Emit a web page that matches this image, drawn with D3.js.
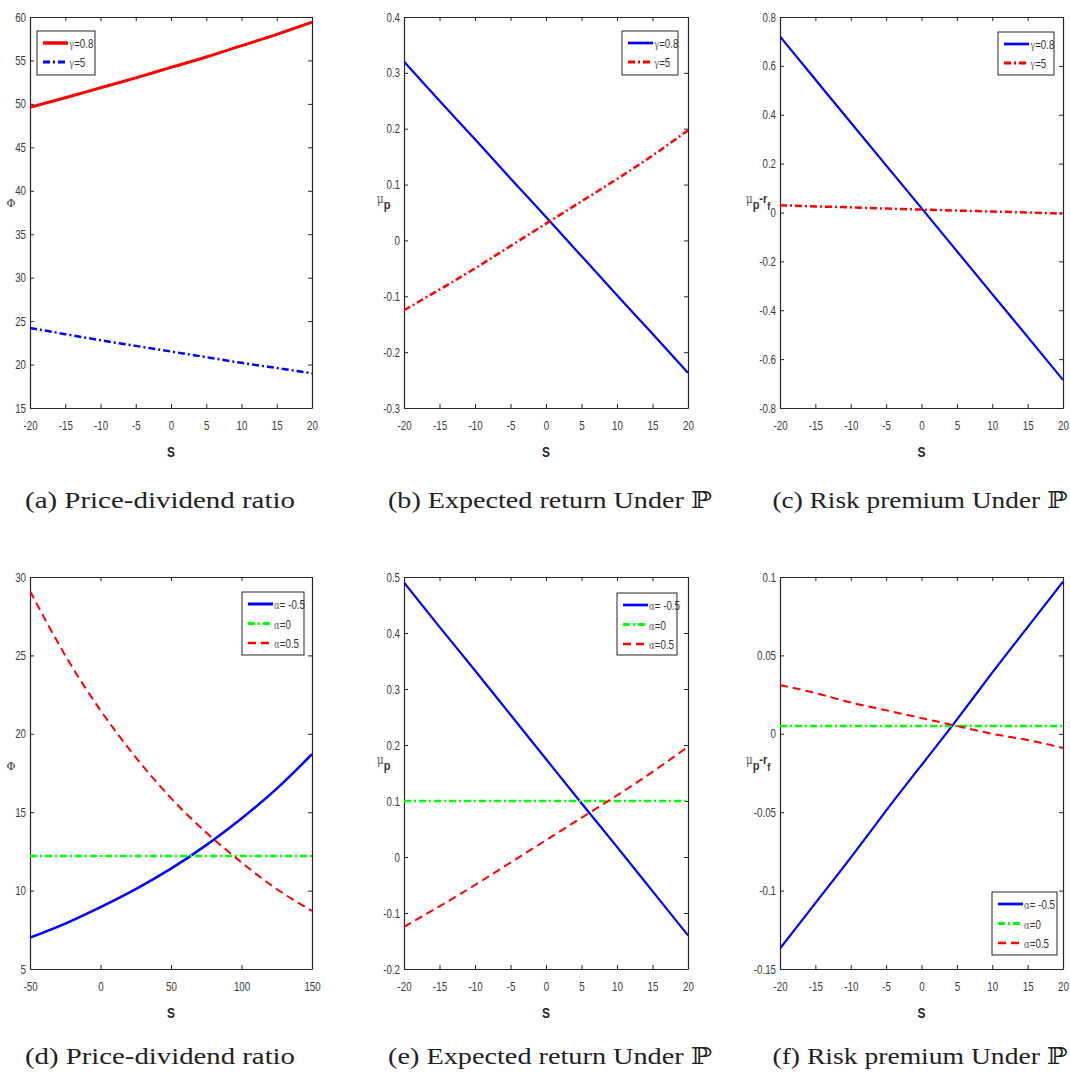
<!DOCTYPE html>
<html><head><meta charset="utf-8">
<script src="https://cdn.jsdelivr.net/npm/d3@7"></script>
<style>
body{margin:0;background:#fff}
svg{display:block}
.ax text{font-family:"Liberation Sans","DejaVu Sans",sans-serif;font-size:12.5px;fill:#3a3a3a}
.ax path,.ax line{stroke:#262626}
.cap{font-family:"Liberation Serif","DejaVu Serif",serif;font-size:23px;fill:#222}
.xl{font-family:"Liberation Sans",sans-serif;font-weight:bold;font-size:14px;fill:#222}
.lg{font-family:"Liberation Sans",sans-serif;font-size:12.5px;fill:#333}
.yl{font-family:"Liberation Sans",sans-serif;fill:#333}
</style></head><body>
<svg id="c" width="1070" height="1073"></svg>
<script>
// ---------- data ----------
const S_grid = [-20,-15,-10,-5,0,5,10,15,20];
const S_ticks = [-20,-15,-10,-5,0,5,10,15,20];
const S_wide = [-50,-25,0,25,50,75,100,125,150];
const S_wide_ticks = [-50,0,50,100,150];

// (a) price-dividend ratio
const pdA_g08 = [49.6,50.7,51.85,53.0,54.2,55.4,56.7,58.0,59.4];
const pdA_g5  = [24.2,23.5,22.8,22.15,21.5,20.85,20.2,19.6,19.0];
const ticksA = [15,20,25,30,35,40,45,50,55,60];
// (b) expected return
const erB_g08 = [0.320,0.250,0.181,0.111,0.042,-0.028,-0.098,-0.167,-0.237];
const erB_g5  = [-0.125,-0.088,-0.050,-0.010,0.030,0.070,0.110,0.152,0.197];
const ticksB = [-0.3,-0.2,-0.1,0,0.1,0.2,0.3,0.4];
// (c) risk premium
const rpC_g08 = [0.720,0.544,0.368,0.193,0.018,-0.158,-0.334,-0.509,-0.685];
const rpC_g5  = [0.030,0.025,0.021,0.016,0.012,0.008,0.004,0.000,-0.005];
const ticksC = [-0.8,-0.6,-0.4,-0.2,0,0.2,0.4,0.6,0.8];
// (d) price-dividend ratio, alpha
const pdD_am05 = [7.0,7.9,8.95,10.1,11.4,12.9,14.6,16.5,18.7];
const pdD_a0   = [12.2,12.2,12.2,12.2,12.2,12.2,12.2,12.2,12.2];
const pdD_a05  = [29.1,25.0,21.5,18.5,15.9,13.7,11.8,10.1,8.7];
const ticksD = [5,10,15,20,25,30];
// (e) expected return, alpha
const erE_am05 = [0.490,0.411,0.333,0.254,0.175,0.096,0.018,-0.061,-0.140];
const erE_a0   = [0.1,0.1,0.1,0.1,0.1,0.1,0.1,0.1,0.1];
const erE_a05  = [-0.125,-0.088,-0.050,-0.010,0.030,0.070,0.110,0.152,0.197];
const ticksE = [-0.2,-0.1,0,0.1,0.2,0.3,0.4,0.5];
// (f) risk premium, alpha
const rpF_am05 = [-0.137,-0.108,-0.079,-0.049,-0.020,0.009,0.039,0.068,0.097];
const rpF_a0   = [0.005,0.005,0.005,0.005,0.005,0.005,0.005,0.005,0.005];
const rpF_a05  = [0.031,0.026,0.020,0.015,0.010,0.005,0.000,-0.004,-0.009];
const ticksF = [-0.15,-0.1,-0.05,0,0.05,0.1];

const gammaLabels = ["0.8","5"];
const alphaLabels = [" -0.5","0","0.5"];
const captions = ["(a) Price-dividend ratio","(b) Expected return Under \u2119","(c) Risk premium Under \u2119",
                  "(d) Price-dividend ratio","(e) Expected return Under \u2119","(f) Risk premium Under \u2119"];

// ---------- styles ----------
const SOLID=null, DASHDOT="7,3,2,3", DASHED="8,5";
const RED="#ff0000", BLUE="#0000ff", GREEN="#00ff00";
const NARROW = 0.78;

const panels = [
 {r:[30,312,17,408], xd:[-20,20], xt:S_ticks, xs:S_grid, yd:[15,60], yt:ticksA,
  ser:[[pdA_g08,RED,SOLID,3],[pdA_g5,BLUE,DASHDOT,2.5]], greek:"\u03b3", labs:gammaLabels,
  lg:[37,31,58,44], yl:"phi", ylp:[11,203], cap:[160,508,270]},
 {r:[404,688,17,408], xd:[-20,20], xt:S_ticks, xs:S_grid, yd:[-0.3,0.4], yt:ticksB,
  ser:[[erB_g08,BLUE,SOLID,2.2],[erB_g5,RED,DASHDOT,2.5]], greek:"\u03b3", labs:gammaLabels,
  lg:[622,31,56,44], yl:"mu", ylp:[377,203], cap:[550,508,324]},
 {r:[780,1063,17,408], xd:[-20,20], xt:S_ticks, xs:S_grid, yd:[-0.8,0.8], yt:ticksC,
  ser:[[rpC_g08,BLUE,SOLID,2.2],[rpC_g5,RED,DASHDOT,2.5]], greek:"\u03b3", labs:gammaLabels,
  lg:[998,32,56,43], yl:"murf", ylp:[746,203], cap:[920,508,295]},
 {r:[30,312,577,969], xd:[-50,150], xt:S_wide_ticks, xs:S_wide, yd:[5,30], yt:ticksD,
  ser:[[pdD_am05,BLUE,SOLID,2.5],[pdD_a0,GREEN,DASHDOT,2.5],[pdD_a05,RED,DASHED,2]], greek:"\u03b1", labs:alphaLabels,
  lg:[242,592,62,63], yl:"phi", ylp:[11,766], cap:[160,1064,270]},
 {r:[404,688,577,969], xd:[-20,20], xt:S_ticks, xs:S_grid, yd:[-0.2,0.5], yt:ticksE,
  ser:[[erE_am05,BLUE,SOLID,2.2],[erE_a0,GREEN,DASHDOT,2.5],[erE_a05,RED,DASHED,2]], greek:"\u03b1", labs:alphaLabels,
  lg:[617,593,60,62], yl:"mu", ylp:[377,764], cap:[550,1064,324]},
 {r:[780,1063,577,969], xd:[-20,20], xt:S_ticks, xs:S_grid, yd:[-0.15,0.1], yt:ticksF,
  ser:[[rpF_am05,BLUE,SOLID,2.2],[rpF_a0,GREEN,DASHDOT,2.5],[rpF_a05,RED,DASHED,2]], greek:"\u03b1", labs:alphaLabels,
  lg:[992,892,65,63], yl:"murf", ylp:[746,764], cap:[920,1064,295]}
];

const svg = d3.select("#c");
const fmt = d => d===0 ? "0" : String(+d.toFixed(2));

panels.forEach((p,i)=>{
  const [x0,x1,y0,y1] = p.r;
  const x = d3.scaleLinear().domain(p.xd).range([x0,x1]);
  const y = d3.scaleLinear().domain(p.yd).range([y1,y0]);
  const g = svg.append("g");
  const cid = "clip"+i;
  svg.append("clipPath").attr("id",cid).append("rect").attr("x",x0).attr("y",y0-2).attr("width",x1-x0).attr("height",y1-y0+4);

  // axes
  const xb = g.append("g").attr("class","ax").attr("transform",`translate(0,${y1})`)
    .call(d3.axisBottom(x).tickValues(p.xt).tickFormat(fmt).tickSizeInner(-4).tickSizeOuter(0).tickPadding(13));
  xb.selectAll("text").attr("transform",`scale(${NARROW},1)`);
  g.append("g").attr("class","ax").attr("transform",`translate(0,${y0})`)
    .call(d3.axisTop(x).tickValues(p.xt).tickFormat("").tickSizeInner(-4).tickSizeOuter(0));
  const yb = g.append("g").attr("class","ax").attr("transform",`translate(${x0},0)`)
    .call(d3.axisLeft(y).tickValues(p.yt).tickFormat(fmt).tickSizeInner(-4).tickSizeOuter(0).tickPadding(5));
  yb.selectAll("text").attr("x",-4/NARROW).attr("transform",`scale(${NARROW},1)`);
  g.append("g").attr("class","ax").attr("transform",`translate(${x1},0)`)
    .call(d3.axisRight(y).tickValues(p.yt).tickFormat("").tickSizeInner(-4).tickSizeOuter(0));
  g.selectAll(".ax .domain").attr("stroke","#262626").attr("stroke-width",1.2);

  // lines
  const line = d3.line().x((d,k)=>x(p.xs[k])).y(d=>y(d)).curve(d3.curveNatural);
  const lg = g.append("g").attr("clip-path",`url(#${cid})`);
  p.ser.forEach(s=>{
    lg.append("path").datum(s[0]).attr("d",line).attr("fill","none")
      .attr("stroke",s[1]).attr("stroke-width",s[3]).attr("stroke-dasharray",s[2]);
  });

  // x label
  g.append("text").attr("class","xl").attr("transform",`translate(${(x0+x1)/2},${y1+49}) scale(0.85,1)`)
    .attr("text-anchor","middle").text("S");

  // y label
  const [lx,ly] = p.ylp;
  if(p.yl==="phi"){
    g.append("text").attr("class","yl").attr("x",lx).attr("y",ly+4).attr("text-anchor","middle")
      .style("font-family","DejaVu Serif,serif").style("font-size","11px").text("\u03a6");
  } else {
    const t = g.append("text").attr("class","yl").attr("transform",`translate(${lx},${ly}) scale(0.85,1)`);
    t.append("tspan").style("font-family","DejaVu Serif,serif").style("font-size","12px").attr("fill","#555").text("\u03bc");
    t.append("tspan").attr("dy",6).style("font-weight","bold").style("font-size","13px").text("p");
    if(p.yl==="murf"){
      t.append("tspan").attr("dy",-6).style("font-weight","bold").style("font-size","13px").text("-r");
      t.append("tspan").attr("dy",7).style("font-weight","bold").style("font-size","11px").text("f");
    }
  }

  // legend
  const [bx,by,bw,bh] = p.lg;
  const L = g.append("g");
  L.append("rect").attr("x",bx).attr("y",by).attr("width",bw).attr("height",bh)
    .attr("fill","#fff").attr("stroke","#262626").attr("stroke-width",1);
  const step = p.ser.length===2 ? 19 : 19.5;
  p.ser.forEach((s,k)=>{
    const yy = by + 12 + k*step;
    L.append("line").attr("x1",bx+6).attr("x2",bx+31).attr("y1",yy).attr("y2",yy)
      .attr("stroke",s[1]).attr("stroke-width",s[3]+0.5).attr("stroke-dasharray",s[2]);
    const t = L.append("text").attr("class","lg").attr("transform",`translate(${bx+32},${yy+5}) scale(${NARROW},1)`);
    t.append("tspan").style("font-family","DejaVu Serif,serif").style("font-size","11px").attr("fill","#666").text(p.greek);
    t.append("tspan").text("="+p.labs[k]);
  });

  // caption
  const [cx,cy,cw] = p.cap;
  svg.append("text").attr("class","cap").attr("x",cx).attr("y",cy).attr("text-anchor","middle")
    .attr("textLength",cw).attr("lengthAdjust","spacingAndGlyphs").text(captions[i]);
});
</script>
</body></html>
